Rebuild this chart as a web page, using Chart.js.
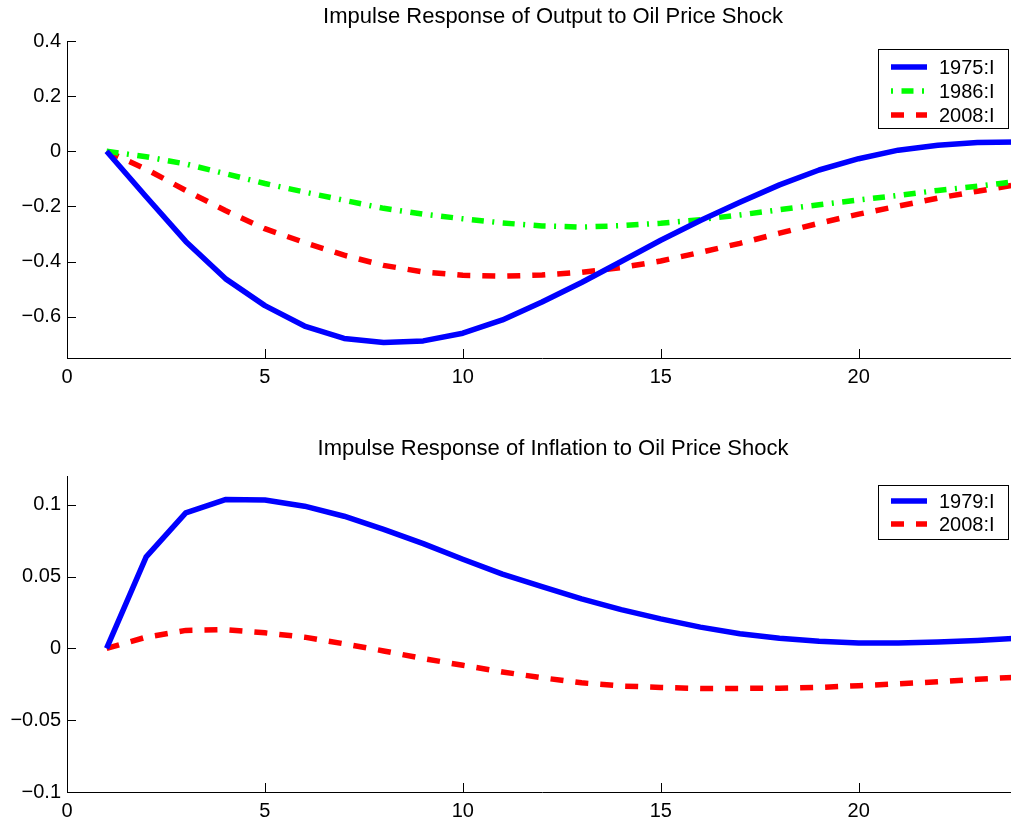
<!DOCTYPE html>
<html><head><meta charset="utf-8">
<script src="https://cdn.jsdelivr.net/npm/chart.js@4.4.1/dist/chart.umd.min.js"></script>
<style>
html,body{margin:0;padding:0;background:#fff;overflow:hidden;width:1011px;height:826px;}
#w1{position:absolute;left:0;top:0;width:1040px;height:413px;}
#w2{position:absolute;left:0;top:413px;width:1040px;height:413px;}
</style></head><body>
<div id="w1"><canvas id="c1"></canvas></div>
<div id="w2"><canvas id="c2"></canvas></div>
<script>
// ---- data ----
const periods = [1,2,3,4,5,6,7,8,9,10,11,12,13,14,15,16,17,18,19,20,21,22,23,24];
const output1975 = [0,-0.165,-0.327,-0.462,-0.56,-0.634,-0.679,-0.694,-0.688,-0.66,-0.612,-0.547,-0.476,-0.4,-0.323,-0.251,-0.185,-0.122,-0.068,-0.027,0.004,0.022,0.032,0.034];
const output1986 = [0,-0.02,-0.046,-0.081,-0.117,-0.148,-0.178,-0.207,-0.228,-0.245,-0.26,-0.271,-0.275,-0.27,-0.261,-0.248,-0.231,-0.212,-0.194,-0.177,-0.16,-0.142,-0.127,-0.109];
const output2008 = [0,-0.065,-0.142,-0.215,-0.281,-0.331,-0.377,-0.414,-0.438,-0.45,-0.453,-0.449,-0.439,-0.422,-0.398,-0.367,-0.334,-0.297,-0.261,-0.228,-0.199,-0.17,-0.145,-0.121];
const infl1979 = [0,0.0637,0.0943,0.1036,0.1033,0.099,0.092,0.0828,0.0729,0.062,0.0517,0.043,0.0345,0.027,0.0205,0.0148,0.0102,0.0071,0.005,0.0037,0.0037,0.0044,0.0055,0.007];
const infl2008 = [0,0.0078,0.0125,0.013,0.0108,0.0078,0.0032,-0.0018,-0.0071,-0.0118,-0.0164,-0.0205,-0.024,-0.0262,-0.0272,-0.0279,-0.0279,-0.0277,-0.0272,-0.026,-0.0247,-0.0233,-0.0215,-0.0201];
const xTicks = [0,5,10,15,20];
const outputYTicks = [-0.6,-0.4,-0.2,0,0.2,0.4];
const inflYTicks = [-0.1,-0.05,0,0.05,0.1];
const title1 = 'Impulse Response of Output to Oil Price Shock';
const title2 = 'Impulse Response of Inflation to Oil Price Shock';

const FONT = "'Liberation Sans', Arial, Helvetica, sans-serif";
Chart.defaults.font.family = FONT;
Chart.defaults.color = '#000';

const pts = arr => periods.map((p,i)=>({x:p, y:arr[i]}));
const fmt = v => v === 0 ? '0' : (v < 0 ? '\u2212' : '') + String(Math.abs(v));

const inwardTicks = {
  id:'inwardTicks',
  beforeDatasetsDraw(chart){
    const ctx = chart.ctx, a = chart.chartArea;
    const xs = chart.scales.x, ys = chart.scales.y;
    ctx.save();
    ctx.strokeStyle = '#000'; ctx.lineWidth = 1;
    ctx.beginPath();
    xs.ticks.forEach(t=>{ const px = Math.round(xs.getPixelForValue(t.value))+0.5; ctx.moveTo(px,a.bottom); ctx.lineTo(px,a.bottom-9); });
    ys.ticks.forEach(t=>{ const py = Math.round(ys.getPixelForValue(t.value))+0.5; ctx.moveTo(a.left,py); ctx.lineTo(a.left+9,py); });
    ctx.stroke();
    ctx.restore();
  }
};

const axTitle = {
  id:'axTitle',
  afterDraw(chart, args, opts){
    const ctx = chart.ctx;
    ctx.save();
    ctx.fillStyle = '#000';
    ctx.font = '22px ' + FONT;
    ctx.textAlign = 'center';
    ctx.textBaseline = 'middle';
    ctx.fillText(opts.text, opts.x, opts.y);
    ctx.restore();
  }
};

const boxLegend = {
  id:'boxLegend',
  afterDraw(chart, args, opts){
    const ctx = chart.ctx;
    const {x0, x1, y0, y1, rows} = opts;
    ctx.save();
    ctx.fillStyle = '#fff';
    ctx.fillRect(x0, y0, x1-x0, y1-y0);
    ctx.strokeStyle = '#000'; ctx.lineWidth = 1;
    ctx.strokeRect(Math.round(x0)+0.5, Math.round(y0)+0.5, Math.round(x1-x0), Math.round(y1-y0));
    chart.data.datasets.forEach((ds,i)=>{
      const cy = rows[i];
      ctx.beginPath();
      ctx.strokeStyle = ds.borderColor;
      ctx.lineWidth = ds.borderWidth;
      ctx.lineCap = 'butt';
      ctx.setLineDash(ds.borderDash || []);
      ctx.lineDashOffset = ds.legendDashOffset || 0;
      ctx.moveTo(891, cy); ctx.lineTo(927, cy);
      ctx.stroke();
      ctx.setLineDash([]);
      ctx.fillStyle = '#000';
      ctx.font = '20px ' + FONT;
      ctx.textBaseline = 'middle';
      ctx.textAlign = 'left';
      ctx.fillText(ds.label, 939, cy+1);
    });
    ctx.restore();
  }
};

function makeOptions(titleOpts, topPad, yMin, yMax, yTicks, xHeight, legendOpts){
  return {
    responsive:true, maintainAspectRatio:false, animation:false,
    layout:{padding:{left:0,right:23,top:topPad,bottom:0}},
    plugins:{
      legend:{display:false}, tooltip:{enabled:false}, title:{display:false},
      axTitle: titleOpts,
      boxLegend: legendOpts
    },
    elements:{point:{radius:0}, line:{tension:0}},
    scales:{
      x:{type:'linear', min:0, max:24,
        afterBuildTicks: s => { s.ticks = xTicks.map(v=>({value:v})); },
        afterFit: s => { s.height = xHeight; },
        ticks:{font:{size:20,family:FONT}, color:'#000', padding:7, maxRotation:0, autoSkip:false},
        grid:{display:false, drawTicks:false},
        border:{display:true, color:'#000', width:1}},
      y:{type:'linear', min:yMin, max:yMax,
        afterBuildTicks: s => { s.ticks = yTicks.map(v=>({value:v})); },
        afterFit: s => { s.width = 67; },
        ticks:{font:{size:20,family:FONT}, color:'#000', padding:6, autoSkip:false, callback: v => fmt(v)},
        grid:{display:false, drawTicks:false},
        border:{display:true, color:'#000', width:1}}
    }
  };
}

new Chart(document.getElementById('c1'), {
  type:'line',
  data:{datasets:[
    {label:'1975:I', data:pts(output1975), borderColor:'#0000ff', borderWidth:5.5, fill:false, borderJoinStyle:'round'},
    {label:'1986:I', data:pts(output1986), borderColor:'#00ff00', borderWidth:5.5, fill:false, borderDash:[12,8.5,2,8.5], legendDashOffset:20.5},
    {label:'2008:I', data:pts(output2008), borderColor:'#ff0000', borderWidth:5.5, fill:false, borderDash:[13,12]}
  ]},
  options: makeOptions({text:title1, x:553, y:17}, 41, -0.75, 0.4, outputYTicks, 55,
    {x0:878, x1:1008, y0:49, y1:128, rows:[67,91,115]}),
  plugins:[inwardTicks, axTitle, boxLegend]
});

new Chart(document.getElementById('c2'), {
  type:'line',
  data:{datasets:[
    {label:'1979:I', data:pts(infl1979), borderColor:'#0000ff', borderWidth:5.5, fill:false, borderJoinStyle:'round'},
    {label:'2008:I', data:pts(infl2008), borderColor:'#ff0000', borderWidth:5.5, fill:false, borderDash:[13,12]}
  ]},
  options: makeOptions({text:title2, x:553, y:35.5}, 63, -0.1, 0.12, inflYTicks, 34,
    {x0:878, x1:1008, y0:72, y1:126, rows:[88,111]}),
  plugins:[inwardTicks, axTitle, boxLegend]
});
</script>
</body></html>
